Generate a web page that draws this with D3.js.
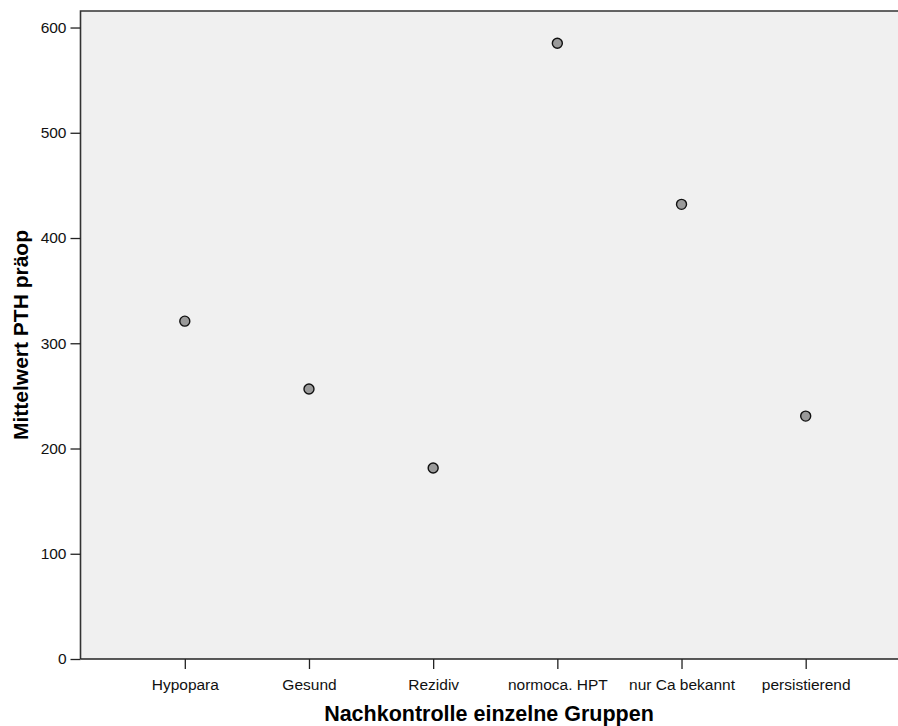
<!DOCTYPE html>
<html><head><meta charset="utf-8">
<script src="https://cdn.jsdelivr.net/npm/d3@7/dist/d3.min.js"></script>
<style>body{margin:0;background:#fff;} svg{display:block;font-family:Arial,"Liberation Sans",sans-serif;}</style>
</head><body>
<svg id="c" width="898" height="726"></svg>
<script>
const categories = ["Hypopara","Gesund","Rezidiv","normoca. HPT","nur Ca bekannt","persistierend"];
const values = [321, 256.5, 181.5, 585, 432, 230.8];
const yTicks = [0,100,200,300,400,500,600];
const xTitle = "Nachkontrolle einzelne Gruppen";
const yTitle = "Mittelwert PTH präop";

const svg = d3.select("#c");
const L = 80.5, T = 11, B = 659, R = 910;
const x = d3.scalePoint().domain(categories).range([L, R]).padding(0.84);
const y = d3.scaleLinear().domain([0, 615.7]).range([B, T]);

svg.append("rect").attr("x", L).attr("y", T).attr("width", R - L).attr("height", B - T).attr("fill", "#f0f0f0");

// frame lines
svg.append("path").attr("d", `M${L},${B}V${T}H${R}`).attr("fill","none").attr("stroke","#333").attr("stroke-width",1.6);
svg.append("path").attr("d", `M${L},${B}H${R}`).attr("fill","none").attr("stroke","#222").attr("stroke-width",1.6);

const yAxis = svg.append("g").attr("transform", `translate(${L},0)`)
  .call(d3.axisLeft(y).tickValues(yTicks).tickSize(10).tickPadding(4).tickFormat(d3.format("d")));
yAxis.select(".domain").remove();
yAxis.selectAll("line").attr("stroke","#222").attr("stroke-width",1.3);
yAxis.selectAll("text").attr("font-size", 15.5).attr("fill","#111").attr("font-family","Arial,'Liberation Sans',sans-serif");

const xAxis = svg.append("g").attr("transform", `translate(0,${B})`)
  .call(d3.axisBottom(x).tickSize(10).tickPadding(9.5));
xAxis.select(".domain").remove();
xAxis.selectAll("line").attr("stroke","#222").attr("stroke-width",1.3);
xAxis.selectAll("text").attr("font-size", 15.5).attr("fill","#111").attr("font-family","Arial,'Liberation Sans',sans-serif");

svg.append("g").selectAll("circle").data(categories).join("circle")
  .attr("cx", d => x(d)).attr("cy", (d,i) => y(values[i])).attr("r", 5)
  .attr("fill", "#9a9a9a").attr("stroke", "#111").attr("stroke-width", 1.4);

svg.append("text").attr("x", 489).attr("y", 721).attr("text-anchor","middle")
  .attr("font-size", 21.5).attr("font-weight","bold").attr("fill","#000").text(xTitle);
svg.append("text").attr("transform", `translate(28,${(T+B)/2}) rotate(-90)`).attr("text-anchor","middle")
  .attr("font-size", 21).attr("font-weight","bold").attr("fill","#000").text(yTitle);
</script>
</body></html>
